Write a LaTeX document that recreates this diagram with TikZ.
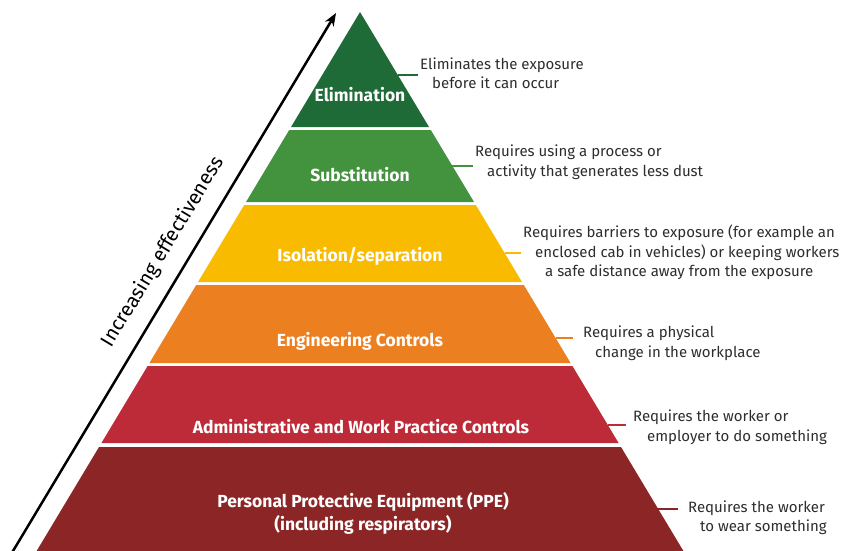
\documentclass[tikz,border=0pt]{standalone}
\usepackage{fontspec}
\setmainfont{Fira Sans}
\usetikzlibrary{arrows.meta}
\definecolor{celim}{RGB}{30,107,56}
\definecolor{csubs}{RGB}{67,146,62}
\definecolor{ciso}{RGB}{248,187,0}
\definecolor{ceng}{RGB}{236,128,33}
\definecolor{cadm}{RGB}{190,43,56}
\definecolor{cppe}{RGB}{139,37,38}
\definecolor{cdesc}{RGB}{45,45,45}
\begin{document}
\begin{tikzpicture}[x=1pt,y=-1pt,
  lab/.style={text=white,font=\fontsize{17.5}{23}\selectfont\bfseries,align=center,inner sep=0pt},
  desc/.style={text=cdesc,font=\fontsize{15}{19.5}\selectfont,align=left,inner sep=0pt,anchor=west},
  tick/.style={line width=2.5pt}]
\useasboundingbox (0,0) rectangle (851,551);
% bands
\fill[celim] (360,12) -- (429,127) -- (291,127) -- cycle;
\fill[csubs] (289.2,130) -- (430.8,130) -- (474,202) -- (246,202) -- cycle;
\fill[ciso] (244.2,205) -- (475.8,205) -- (522,282) -- (198,282) -- cycle;
\fill[ceng] (196.2,285) -- (523.8,285) -- (570.6,363) -- (149.4,363) -- cycle;
\fill[cadm] (147.6,366) -- (572.4,366) -- (618.6,443) -- (101.4,443) -- cycle;
\fill[cppe] (99,447) -- (621,447) -- (683.4,551) -- (36.6,551) -- cycle;
% labels
\node[lab] (l1) at (360,95) {Elimination};
\node[lab] (l2) at (360,175) {Substitution};
\node[lab] (l3) at (360,256) {Isolation/separation};
\node[lab] (l4) at (360,341) {Engineering Controls};
\node[lab] (l5) at (361,427) {Administrative and Work Practice Controls};
\node[lab] (l6) at (363,513) {Personal Protective Equipment (PPE)\\(including respirators)};
% descriptions
\node[desc] (d1) at (420,73) {Eliminates the exposure\\\hspace*{12pt}before it can occur};
\node[desc] (d2) at (475,162) {Requires using a process or\\\hspace*{12pt}activity that generates less dust};
\node[desc] (d3) at (523,252.5) {Requires barriers to exposure (for example an\\\hspace*{12pt}enclosed cab in vehicles) or keeping workers\\\hspace*{22pt}a safe distance away from the exposure};
\node[desc] (d4) at (583,343) {Requires a physical\\\hspace*{12pt}change in the workplace};
\node[desc] (d5) at (633,427) {Requires the worker or\\\hspace*{14pt}employer to do something};
\node[desc] (d6) at (688,517.5) {Requires the worker\\\hspace*{12pt}to wear something};
% ticks
\coordinate (e1) at (397.8,75);  \coordinate (t1) at (418,75);
\coordinate (e2) at (452.4,166); \coordinate (t2) at (473,166);
\coordinate (e3) at (504.6,253); \coordinate (t3) at (521,253);
\coordinate (e4) at (555.6,338); \coordinate (t4) at (573,338);
\coordinate (e5) at (607.8,425); \coordinate (t5) at (626,425);
\coordinate (e6) at (658.2,509); \coordinate (t6) at (678,509);
\draw[tick,celim] (e1) -- (t1);
\draw[tick,csubs] (e2) -- (t2);
\draw[tick,ciso] (e3) -- (t3);
\draw[tick,ceng] (e4) -- (t4);
\draw[tick,cadm] (e5) -- (t5);
\draw[tick,cppe] (e6) -- (t6);
% arrow
\coordinate (a0) at (10,556);
\coordinate (a1) at (336,13);
\draw[line width=2.5pt,-{Stealth[length=13pt,width=10pt]}] (a0) -- (a1);
\node[rotate=59,font=\fontsize{20}{24}\selectfont,text=black,inner sep=0pt] (eff) at (163,252) {Increasing effectiveness};
\end{tikzpicture}
\end{document}
